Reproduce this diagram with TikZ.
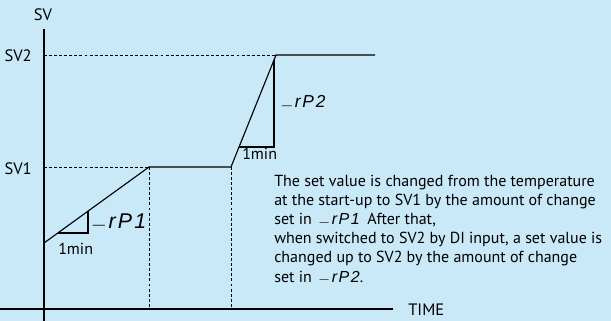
\documentclass[tikz,border=0pt]{standalone}
\usepackage{fontspec}
\setmainfont{PT Sans}
\newfontfamily\segfont[LetterSpace=10]{Liberation Sans}
\definecolor{bgblue}{RGB}{201,233,248}
\tikzset{
  axis/.style={line width=1pt},
  curve/.style={line width=0.85pt},
  guide/.style={line width=0.65pt, dash pattern=on 2.2pt off 1.6pt},
  lbl/.style={font=\fontsize{12.4}{14}\selectfont, inner sep=0pt},
  para/.style={font=\fontsize{12}{14}\selectfont, inner sep=0pt},
  small/.style={font=\fontsize{12}{14}\selectfont, inner sep=0pt},
}
\newcommand\ledcode[1]{{\segfont\itshape\raisebox{0.2em}{\_}\hspace{0.12em}rP#1}}
\begin{document}
\begin{tikzpicture}[x=0.75pt,y=-0.75pt]
	\fill[bgblue] (0,0) rectangle (611,321);
	\useasboundingbox (0,0) rectangle (611,321);
	% axes
	\coordinate (xl) at (0,309);
	\coordinate (xr) at (393,309);
	\coordinate (yb) at (44,321);
	\coordinate (yt) at (44,29);
	\draw[axis] (xl) -- (xr);
	\draw[axis] (yb) -- (yt);
	\node (sv)[lbl,anchor=base] at (43,21) {SV};
	\node (time)[lbl,anchor=base west] at (408,315) {TIME};
	\node (sv2)[lbl,anchor=base east] at (32,62) {SV2};
	\node (sv1)[lbl,anchor=base east] at (32,175) {SV1};
	% set value curve
	\coordinate (a0) at (44,243);
	\coordinate (a1) at (149,167);
	\coordinate (a2) at (231,167);
	\coordinate (a3) at (276,55);
	\coordinate (a4) at (375,55);
	\draw[curve] (a0) -- (a1) -- (a2) -- (a3) -- (a4);
	\draw[guide] (yt |- a1) -- (a1);
	\draw[guide] (yt |- a3) -- (a3);
	\draw[guide] (a1) -- (a1 |- xl);
	\draw[guide] (a2) -- (a2 |- xl);
	% slope triangles
	\coordinate (t1a) at (58,233);
	\coordinate (t1b) at (88,233);
	\coordinate (t1c) at (88,211);
	\draw[curve] (t1a) -- (t1b) -- (t1c);
	\coordinate (t2a) at (239,147);
	\coordinate (t2b) at (274,147);
	\coordinate (t2c) at (274,60);
	\draw[curve] (t2a) -- (t2b) -- (t2c);
	\node (rp1)[inner sep=0pt,anchor=base west] at (94,228) {\fontsize{16}{16}\selectfont\ledcode{1}};
	\node (rp2)[inner sep=0pt,anchor=base west] at (283,108) {\fontsize{13}{13}\selectfont\ledcode{2}};
	\node (min1)[small,anchor=base west] at (58,254) {1min};
	\node (min2)[small,anchor=base west] at (242,160) {1min};
	% explanation
	\foreach \txt [count=\i from 0] in {
		{The set value is changed from the temperature},
		{at the start-up to SV1 by the amount of change},
		{set in \hspace{0.3em}\ledcode{1}\hspace{0.2em} After that,},
		{when switched to SV2 by DI input, a set value is},
		{changed up to SV2 by the amount of change},
		{set in \hspace{0.3em}\ledcode{2}.}}
		\node (line\i)[para,anchor=base west] at (274,186+19.2*\i) {\txt};
\end{tikzpicture}
\end{document}
